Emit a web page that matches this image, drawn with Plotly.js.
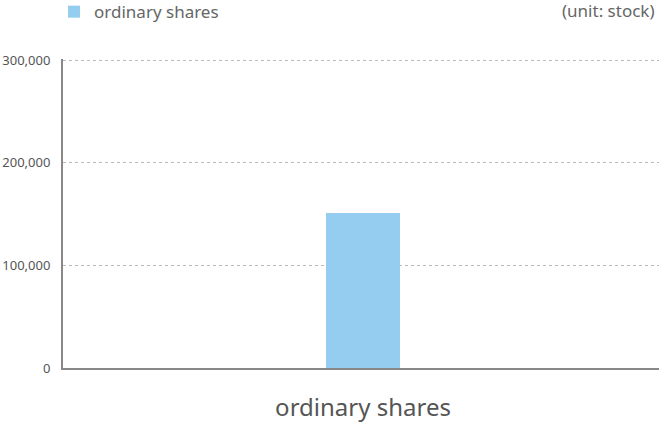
<!DOCTYPE html>
<html>
<head>
<meta charset="utf-8">
<script src="https://cdn.plot.ly/plotly-3.0.1.min.js"></script>
<style>html,body{margin:0;padding:0;background:#fff;}#chart{width:659px;height:424px;}</style>
</head>
<body>
<div id="chart"></div>
<script>
const categories = ["ordinary shares"];
const seriesName = "ordinary shares";
const values = [151000];
const yTicks = [0, 100000, 200000, 300000];
const unitLabel = "(unit: stock)";

const fontFamily = "'Noto Sans', 'Open Sans', sans-serif";

const data = [{
  type: "bar",
  name: seriesName,
  x: categories,
  y: values,
  width: 0.124,
  marker: {color: "#94cdf0"},
  hoverinfo: "none"
}];

const layout = {
  width: 659, height: 424,
  margin: {l: 63, r: 0, t: 59, b: 56, autoexpand: false},
  paper_bgcolor: "#fff", plot_bgcolor: "#fff",
  font: {family: fontFamily, color: "#555"},
  bargap: 0,
  showlegend: true,
  legend: {
    xref: "container", yref: "paper",
    x: 0.082, y: 1.21, xanchor: "left", yanchor: "top",
    orientation: "h",
    font: {size: 17, color: "#666", family: fontFamily},
    bgcolor: "rgba(0,0,0,0)"
  },
  xaxis: {
    range: [-0.5034, 0.4966],
    showline: true, linecolor: "#888", linewidth: 2,
    showgrid: false, zeroline: false,
    ticks: "", ticklabelstandoff: 17,
    tickfont: {size: 24, color: "#555", family: fontFamily},
    fixedrange: true
  },
  yaxis: {
    range: [0, 301000],
    tickvals: yTicks,
    tickformat: ",d",
    showline: true, linecolor: "#888", linewidth: 2,
    showgrid: true, gridcolor: "#bbb", griddash: "dot", gridwidth: 1,
    zeroline: false,
    ticks: "", ticklabelstandoff: 8,
    tickfont: {size: 13, color: "#555", family: fontFamily},
    fixedrange: true
  },
  annotations: [{
    text: unitLabel, xref: "paper", yref: "paper",
    x: 1, y: 1, xanchor: "right", yanchor: "top",
    yshift: 62, xshift: -2,
    showarrow: false,
    font: {size: 17, color: "#666", family: fontFamily}
  }]
};

Plotly.newPlot("chart", data, layout, {displayModeBar: false, staticPlot: true});
</script>
</body>
</html>
